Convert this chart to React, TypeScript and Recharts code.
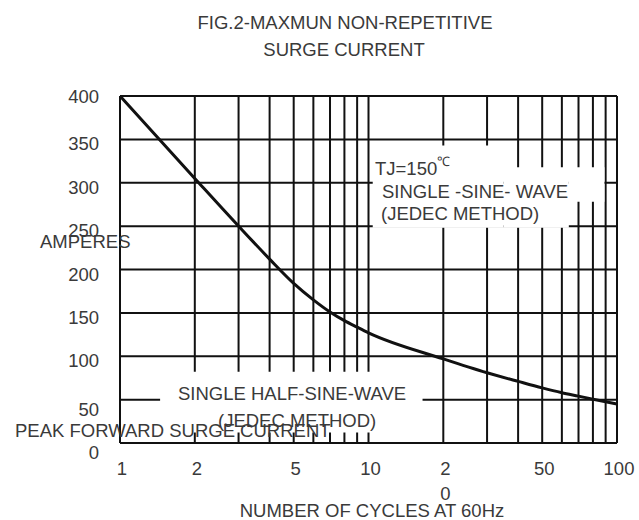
import React from "react";
import {
  LineChart,
  Line,
  XAxis,
  YAxis,
  CartesianGrid,
  ReferenceArea,
} from "recharts";

// cycles at 60Hz (log axis) and peak forward surge current in amperes
const cycles = [1, 2, 3, 4, 5, 6, 7, 8, 9, 10, 20, 30, 40, 50, 60, 70, 80, 90, 100];
const amperes = [400, 305, 250, 212, 184, 165, 151, 141, 133.5, 127, 97, 81, 71, 63.5, 58, 54, 50.5, 47.5, 45];

const xGrid = [1, 2, 3, 4, 5, 6, 7, 8, 9, 10, 20, 30, 40, 50, 60, 70, 80, 90, 100];
const xLabels: Record<number, string[]> = {
  1: ["1"],
  2: ["2"],
  5: ["5"],
  10: ["10"],
  20: ["2", "0"],
  50: ["50"],
  100: ["100"],
};
const yTicks = [0, 50, 100, 150, 200, 250, 300, 350, 400];

const FONT = "'Liberation Sans', Arial, sans-serif";
const TEXT = "#3a3a3a";
const FS = 18.5;

const data = cycles.map((c, i) => ({ cycles: c, amps: amperes[i] }));

const XTick = ({ x, y, payload }: any) => {
  const lines = xLabels[payload.value];
  if (!lines) return null;
  return (
    <g>
      {lines.map((t, i) => (
        <text
          key={i}
          x={x + 2}
          y={y + 24 + i * 25}
          textAnchor="middle"
          fontSize={FS}
          fontFamily={FONT}
          fill={TEXT}
        >
          {t}
        </text>
      ))}
    </g>
  );
};

const YTick = ({ x, y, payload }: any) => {
  const v = payload.value;
  const dy = v === 400 ? 7 : v <= 50 ? 16 : 11;
  return (
    <text x={x - 13} y={y + dy} textAnchor="end" fontSize={FS} fontFamily={FONT} fill={TEXT}>
      {v}
    </text>
  );
};

export default function App() {
  const t = (x: number, y: number, s: string, anchor: any = "start") => (
    <text x={x} y={y} fontSize={FS} fontFamily={FONT} fill={TEXT} textAnchor={anchor}>
      {s}
    </text>
  );

  return (
    <div style={{ position: "absolute", left: 0, top: 0, width: 639, height: 520, background: "#fff" }}>
      <LineChart
        width={639}
        height={520}
        data={data}
        margin={{ top: 96, right: 22, left: 60, bottom: 37 }}
      >
        <CartesianGrid stroke="#111" strokeWidth={2} />
        <XAxis
          dataKey="cycles"
          type="number"
          scale="log"
          domain={[1, 100]}
          ticks={xGrid}
          interval={0}
          tick={<XTick />}
          tickLine={false}
          axisLine={{ stroke: "#111", strokeWidth: 2 }}
          height={40}
        />
        <YAxis
          type="number"
          domain={[0, 400]}
          ticks={yTicks}
          interval={0}
          tick={<YTick />}
          tickLine={false}
          axisLine={{ stroke: "#111", strokeWidth: 2 }}
          width={60}
        />
        {/* white label backgrounds that break the grid */}
        <ReferenceArea x1={10.4} x2={35} y1={248} y2={343} fill="#fff" fillOpacity={1} stroke="none" />
        <ReferenceArea x1={35} x2={64} y1={248} y2={318} fill="#fff" fillOpacity={1} stroke="none" />
        <ReferenceArea x1={64} x2={89} y1={278} y2={318} fill="#fff" fillOpacity={1} stroke="none" />
        <ReferenceArea x1={1.45} x2={16.5} y1={12} y2={82} fill="#fff" fillOpacity={1} stroke="none" />
        <Line
          dataKey="amps"
          type="monotone"
          stroke="#111"
          strokeWidth={3}
          dot={false}
          isAnimationActive={false}
        />
      </LineChart>
      <svg
        width={639}
        height={520}
        style={{ position: "absolute", left: 0, top: 0, pointerEvents: "none" }}
      >
        {t(345, 29, "FIG.2-MAXMUN NON-REPETITIVE", "middle")}
        {t(344, 56, "SURGE CURRENT", "middle")}
        <text x={375} y={175} fontSize={FS} fontFamily={FONT} fill={TEXT}>
          TJ=150
          <tspan fontSize={13} dy={-9}>℃</tspan>
        </text>
        {t(382, 198, "SINGLE -SINE- WAVE")}
        {t(381, 220, "(JEDEC METHOD)")}
        {t(178, 400, "SINGLE HALF-SINE-WAVE")}
        {t(218, 427, "(JEDEC METHOD)")}
        {t(40, 248, "AMPERES")}
        {t(15, 437, "PEAK FORWARD SURGE CURRENT")}
        {t(372, 517, "NUMBER OF CYCLES AT 60Hz", "middle")}
      </svg>
    </div>
  );
}
